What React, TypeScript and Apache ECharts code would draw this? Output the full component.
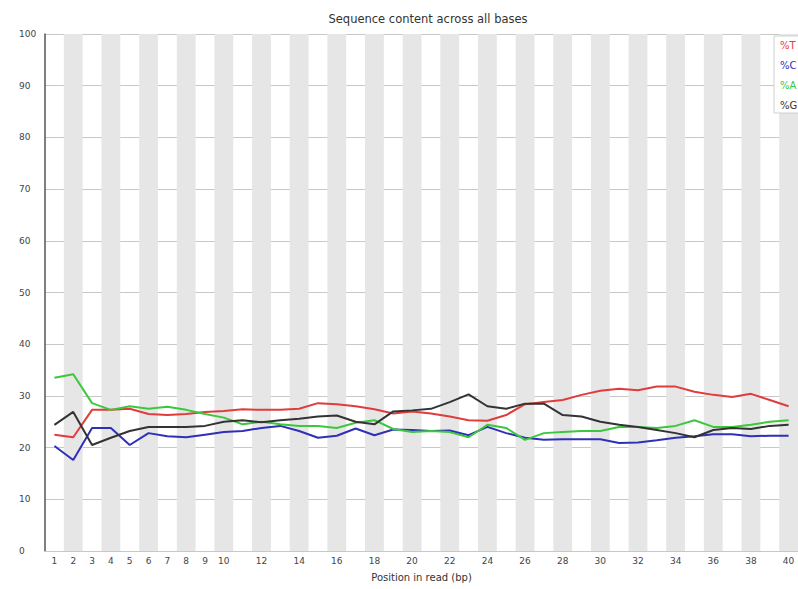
import React, { useEffect, useRef } from "react";
import * as echarts from "echarts";

// Base positions along the read (category axis)
const positions = [
  "1", "2", "3", "4", "5", "6", "7", "8", "9", "10",
  "11", "12", "13", "14", "15", "16", "17", "18", "19", "20",
  "21", "22", "23", "24", "25", "26", "27", "28", "29", "30",
  "31", "32", "33", "34", "35", "36", "37", "38", "39", "40",
];

// Percentage of each base at every position
const pctT = [
  22.5, 22.0, 27.3, 27.3, 27.5, 26.5, 26.3, 26.5, 26.9, 27.1,
  27.4, 27.3, 27.3, 27.5, 28.6, 28.4, 28.0, 27.4, 26.6, 27.0,
  26.6, 26.0, 25.3, 25.2, 26.3, 28.4, 28.8, 29.2, 30.2, 31.0,
  31.4, 31.1, 31.8, 31.8, 30.8, 30.2, 29.8, 30.4, 29.2, 28.0,
];
const pctC = [
  20.3, 17.6, 23.8, 23.8, 20.5, 22.8, 22.2, 22.0, 22.5, 23.0,
  23.2, 23.8, 24.2, 23.2, 21.9, 22.3, 23.7, 22.4, 23.5, 23.4,
  23.2, 23.3, 22.4, 24.0, 22.8, 21.9, 21.5, 21.6, 21.6, 21.6,
  20.9, 21.0, 21.4, 21.9, 22.2, 22.6, 22.6, 22.2, 22.3, 22.3,
];
const pctA = [
  33.5, 34.2, 28.6, 27.3, 28.0, 27.5, 27.9, 27.3, 26.5, 25.8,
  24.5, 25.0, 24.5, 24.2, 24.2, 23.8, 24.8, 25.3, 23.6, 23.0,
  23.2, 23.0, 22.0, 24.4, 23.8, 21.5, 22.8, 23.0, 23.2, 23.2,
  24.0, 24.0, 23.8, 24.2, 25.3, 24.0, 24.0, 24.4, 25.0, 25.3,
];
const pctG = [
  24.4, 26.9, 20.5, 21.9, 23.2, 24.0, 24.0, 24.0, 24.2, 25.0,
  25.3, 24.9, 25.3, 25.6, 26.0, 26.2, 25.0, 24.5, 27.0, 27.2,
  27.5, 28.8, 30.3, 28.0, 27.5, 28.5, 28.5, 26.3, 26.0, 25.0,
  24.4, 24.0, 23.4, 22.8, 22.0, 23.4, 23.8, 23.6, 24.2, 24.4,
];

const seriesNames = ["%T", "%C", "%A", "%G"];
const seriesColors = ["#e03c3c", "#2f2fb8", "#3cc83c", "#333333"];

export default function App() {
  const ref = useRef<HTMLDivElement>(null);

  useEffect(() => {
    if (!ref.current) return;
    const chart = echarts.init(ref.current, null, { renderer: "svg" });
    const font = "DejaVu Sans";
    const values = [pctT, pctC, pctA, pctG];

    chart.setOption({
      animation: false,
      backgroundColor: "#ffffff",
      textStyle: { fontFamily: font },
      title: {
        text: "Sequence content across all bases",
        left: 423,
        top: 8,
        textAlign: "center",
        textStyle: { fontFamily: font, fontSize: 11.5, fontWeight: "normal", color: "#333" },
      },
      legend: {
        orient: "vertical",
        left: 774,
        top: 36,
        itemWidth: 0,
        itemHeight: 12,
        itemGap: 9,
        padding: [3, 3, 3, 1],
        backgroundColor: "#ffffff",
        borderColor: "#d0d0d0",
        borderWidth: 1,
        icon: "none",
        data: seriesNames.map((n, i) => ({
          name: n,
          textStyle: { color: seriesColors[i], fontSize: 10, fontFamily: font },
        })),
      },
      grid: { left: 45, top: 34, width: 756, height: 517 },
      xAxis: {
        type: "category",
        data: positions,
        boundaryGap: true,
        name: "Position in read (bp)",
        nameLocation: "middle",
        nameGap: 21,
        nameTextStyle: { fontFamily: font, fontSize: 10, color: "#333" },
        axisLine: { show: true, lineStyle: { color: "#c8c8c8", width: 1 } },
        axisTick: { show: false, interval: 0 },
        axisLabel: {
          interval: (index: number) => index < 10 || index % 2 === 1,
          margin: 5,
          fontSize: 9,
          fontFamily: font,
          color: "#444",
        },
        splitLine: { show: false },
        splitArea: {
          show: true,
          interval: 0,
          areaStyle: { color: ["rgba(255,255,255,0)", "#e6e6e6"] },
        },
      },
      yAxis: {
        type: "value",
        min: 0,
        max: 100,
        interval: 10,
        axisLine: { show: true, lineStyle: { color: "#555", width: 1.5 } },
        axisTick: { show: false },
        axisLabel: {
          align: "left",
          margin: 26,
          fontSize: 9,
          fontFamily: font,
          color: "#444",
        },
        splitLine: { show: true, lineStyle: { color: "#c8c8c8", width: 1 } },
      },
      series: seriesNames.map((n, i) => ({
        name: n,
        type: "line",
        data: values[i],
        symbol: "none",
        smooth: false,
        lineStyle: { color: seriesColors[i], width: 2 },
        itemStyle: { color: seriesColors[i] },
      })),
    });

    return () => chart.dispose();
  }, []);

  return (
    <div
      ref={ref}
      style={{ position: "absolute", left: 0, top: 0, width: 798, height: 589 }}
    />
  );
}
